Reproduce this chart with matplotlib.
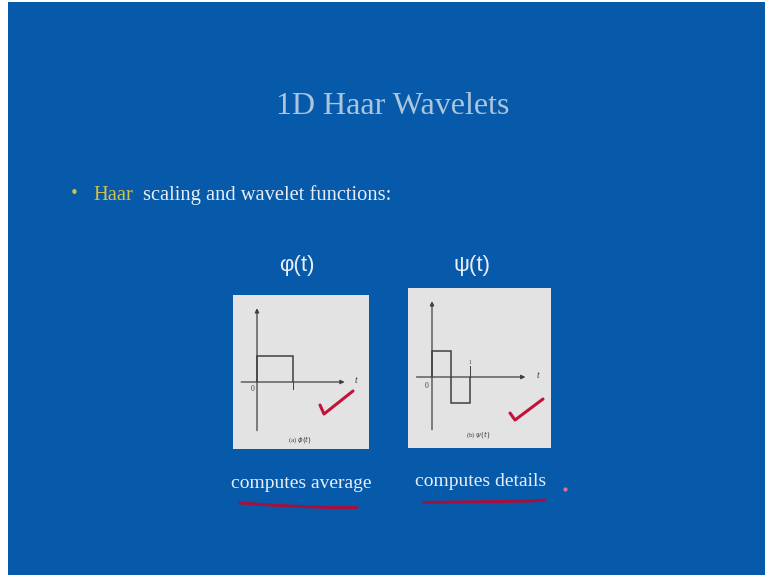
import matplotlib
matplotlib.use('Agg')
import matplotlib.pyplot as plt
from matplotlib.patches import Rectangle

# slide text
TITLE = '1D Haar Wavelets'
BULLET_KEY = 'Haar'
BULLET_REST = 'scaling and wavelet functions:'
FUNC_LABELS = ['\u03c6(t)', '\u03c8(t)']
CAPTIONS = ['(a) $\\phi(t)$', '(b) $\\psi(t)$']
NOTES = ['computes average', 'computes details']

# Haar functions as piecewise constants: edges on t and values between them
PHI_EDGES = [0, 1]
PHI_VALUES = [1]
PSI_EDGES = [0, 0.5, 1]
PSI_VALUES = [1, -1]

BLUE = '#075AA9'
TITLE_COLOR = '#ABC5DF'
TEXT_COLOR = '#E8EEF6'
YELLOW = '#D2C24C'
RED = '#C4123A'
INK = '#3F3F3F'
PANEL = '#E3E3E3'
SERIF = 'Liberation Serif'


def px_axes(fig, x0, y0, x1, y1):
    W, H = 765, 575
    return fig.add_axes([x0 / W, 1 - y1 / H, (x1 - x0) / W, (y1 - y0) / H])


def draw_panel(fig, box, origin, scale, edges, values, caption,
               zero_pos, one_above):
    x0, y0, x1, y1 = box
    ox, oy = origin
    sx, sy = scale
    ax = px_axes(fig, x0, y0, x1, y1)
    ax.set_xlim((x0 - ox) / sx, (x1 - ox) / sx)
    ax.set_ylim((oy - y1) / sy, (oy - y0) / sy)
    ax.set_facecolor(PANEL)
    for s in ax.spines.values():
        s.set_visible(False)
    ax.set_xticks([])
    ax.set_yticks([])

    xl, xr = ax.get_xlim()
    yb, yt = ax.get_ylim()
    arrow = dict(arrowstyle='-|>', color=INK, lw=0.9, mutation_scale=6)
    ax.annotate('', xy=(0, yt - 0.4), xytext=(0, yb + 0.6), arrowprops=arrow)
    ax.annotate('', xy=(xr - 0.6, 0), xytext=(xl + 0.15, 0), arrowprops=arrow)
    ax.text(xr - 0.35, 0.05, 't', family=SERIF, style='italic', fontsize=7,
            color=INK, ha='center', va='center')

    ax.stairs(values, edges, baseline=0, color=INK, lw=1.1)

    ax.text(zero_pos[0], zero_pos[1], '0', family=SERIF, fontsize=5.5,
            color=INK, ha='center', va='center')
    if one_above:
        ax.plot([1, 1], [0, 0.42], color=INK, lw=0.7)
        ax.text(1, 0.55, '1', family=SERIF, fontsize=4, color=INK,
                ha='center', va='center')
    else:
        ax.plot([1, 1], [0, -0.25], color=INK, lw=0.7)
    ax.text(1.2, -2.23, caption, family=SERIF, fontsize=5, color=INK,
            ha='center', va='center')
    return ax


fig = plt.figure(figsize=(7.65, 5.75), dpi=100)
fig.patch.set_facecolor('white')
bg = fig.add_axes([0, 0, 1, 1])
bg.set_xlim(0, 765)
bg.set_ylim(575, 0)
bg.axis('off')
bg.add_patch(Rectangle((8, 2), 757, 573, color=BLUE, lw=0))

bg.text(393, 106, TITLE, family=SERIF, fontsize=23, color=TITLE_COLOR,
        ha='center', va='center')

bg.text(74, 193, '\u2022', family='DejaVu Sans', fontsize=11, color=YELLOW,
        ha='center', va='center')
bg.text(93, 200, BULLET_KEY, family=SERIF, fontsize=14.8, color=YELLOW,
        ha='left', va='baseline')
bg.text(143, 200, BULLET_REST, family=SERIF, fontsize=14.8,
        color=TEXT_COLOR, ha='left', va='baseline')

for label, xc in zip(FUNC_LABELS, [297, 472]):
    bg.text(xc, 265, label, family='Liberation Sans', fontsize=16,
            color=TEXT_COLOR, ha='center', va='center')

draw_panel(fig, (233, 295, 369, 449), (257, 382), (36, 26),
           PHI_EDGES, PHI_VALUES, CAPTIONS[0], (-0.11, -0.27), False)
draw_panel(fig, (408, 288, 551, 448), (432, 377), (38, 26),
           PSI_EDGES, PSI_VALUES, CAPTIONS[1], (-0.13, -0.35), True)

for note, xc in zip(NOTES, [301, 481]):
    y = 488 if xc < 400 else 486
    bg.text(xc, y, note, family=SERIF, fontsize=14, color=TEXT_COLOR,
            ha='center', va='baseline')

# pen strokes go on a transparent layer above the panels
pen = fig.add_axes([0, 0, 1, 1])
pen.set_xlim(0, 765)
pen.set_ylim(575, 0)
pen.axis('off')
pen.patch.set_alpha(0)

pen.plot([320, 324, 353], [405, 414, 391], color=RED, lw=2.2,
         solid_capstyle='round', solid_joinstyle='round')
pen.plot([510, 515, 543], [413, 420, 399], color=RED, lw=2.2,
         solid_capstyle='round', solid_joinstyle='round')

pen.plot([240, 270, 300, 330, 357], [503, 505, 506.5, 507.5, 507.5],
         color='#A3123F', lw=2.2, solid_capstyle='round')
pen.plot([424, 460, 500, 530, 545], [502.5, 502, 501.5, 501, 500],
         color='#A3123F', lw=2.2, solid_capstyle='round')
pen.plot([565], [489], marker='o', ms=2, color='#C77BA0', lw=0)

fig.savefig('out.png', dpi=100, facecolor=fig.get_facecolor())
